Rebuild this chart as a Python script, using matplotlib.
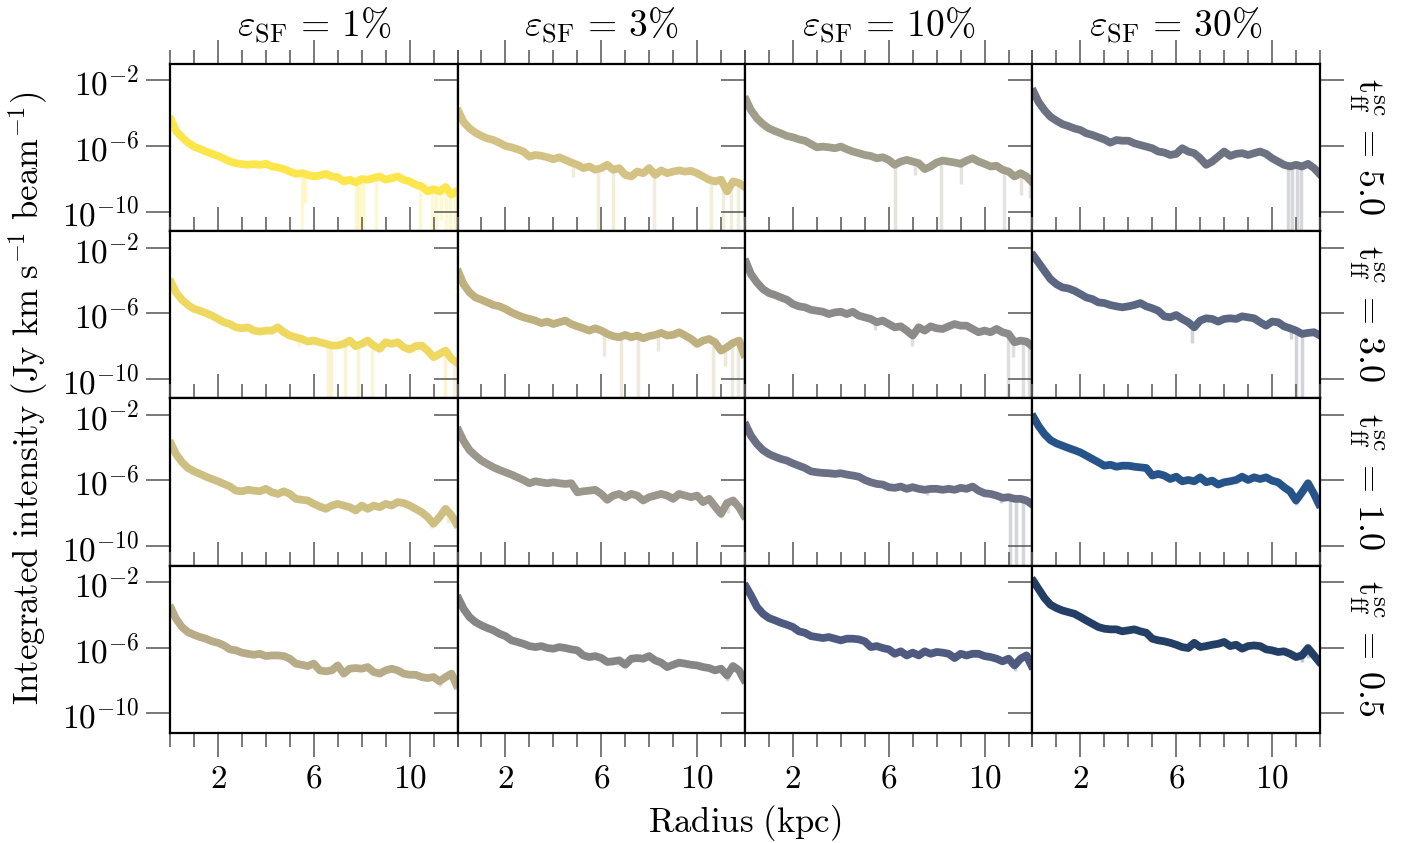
import numpy as np
import matplotlib
matplotlib.use("Agg")
import matplotlib.pyplot as plt
from matplotlib.ticker import FixedLocator, MultipleLocator, NullLocator, LogFormatterMathtext

plt.rcParams["mathtext.fontset"] = "cm"
plt.rcParams["font.family"] = "serif"
plt.rcParams["font.serif"] = ["cmr10", "DejaVu Serif"]
plt.rcParams["axes.formatter.use_mathtext"] = True

# ── data: radial profiles, log10 of integrated intensity ──
radius = [0.05, 0.25, 0.5, 0.75, 1.0, 1.25, 1.5, 1.75, 2.0, 2.25, 2.5, 2.75, 3.0, 3.25,
          3.5, 3.75, 4.0, 4.25, 4.5, 4.75, 5.0, 5.25, 5.5, 5.75, 6.0, 6.25, 6.5, 6.75,
          7.0, 7.25, 7.5, 7.75, 8.0, 8.25, 8.5, 8.75, 9.0, 9.25, 9.5, 9.75, 10.0, 10.25,
          10.5, 10.75, 11.0, 11.25, 11.5, 11.75, 11.95]

eps_labels = ["1", "3", "10", "30"]
tff_labels = ["5.0", "3.0", "1.0", "0.5"]

# row t=5.0
i_e1_t50 = [-4.42,-5.09,-5.47,-5.80,-6.04,-6.18,-6.34,-6.48,-6.61,-6.77,-6.95,-7.05,-7.11,-7.15,-7.11,-7.15,-7.09,-7.25,-7.31,-7.41,-7.56,-7.70,-7.66,-7.76,-7.86,-7.80,-7.70,-7.86,-7.90,-8.16,-8.06,-8.22,-8.02,-8.06,-7.96,-7.86,-8.06,-7.96,-7.86,-8.06,-8.16,-8.36,-8.46,-8.77,-8.63,-8.77,-8.50,-8.97,-8.77]
i_e3_t50 = [-3.92,-4.53,-4.93,-5.19,-5.39,-5.54,-5.64,-5.80,-6.00,-6.08,-6.20,-6.34,-6.65,-6.55,-6.60,-6.69,-6.81,-6.69,-6.85,-7.01,-7.15,-7.35,-7.25,-7.45,-7.35,-7.15,-7.45,-7.35,-7.76,-7.86,-7.56,-7.66,-7.35,-7.76,-7.49,-7.66,-7.56,-7.49,-7.56,-7.52,-7.66,-7.86,-8.06,-8.16,-8.06,-8.77,-8.16,-8.26,-8.46]
i_e10_t50 = [-3.21,-3.82,-4.32,-4.67,-4.93,-5.09,-5.23,-5.39,-5.47,-5.60,-5.68,-5.88,-6.08,-6.04,-6.08,-6.14,-6.04,-6.20,-6.34,-6.44,-6.55,-6.61,-6.75,-6.69,-6.85,-7.15,-6.95,-6.85,-6.95,-7.05,-7.41,-7.25,-7.01,-6.89,-6.95,-7.01,-7.09,-6.89,-6.75,-6.95,-7.09,-7.25,-7.21,-7.45,-7.56,-7.86,-7.66,-7.86,-8.16]
i_e30_t50 = [-2.71,-3.31,-3.82,-4.22,-4.46,-4.67,-4.79,-4.93,-5.03,-5.23,-5.33,-5.47,-5.60,-5.80,-5.64,-5.68,-5.68,-5.84,-5.94,-6.04,-6.14,-6.34,-6.40,-6.55,-6.48,-6.14,-6.34,-6.44,-6.75,-7.15,-6.95,-6.65,-6.34,-6.61,-6.48,-6.44,-6.55,-6.44,-6.34,-6.48,-6.75,-6.95,-7.15,-7.25,-7.15,-7.25,-7.09,-7.35,-7.66]
# row t=3.0
i_e1_t30 = [-4.13,-4.73,-5.18,-5.50,-5.74,-5.85,-5.99,-6.15,-6.35,-6.55,-6.66,-6.86,-6.92,-6.86,-7.06,-7.12,-7.06,-7.06,-6.86,-7.16,-7.36,-7.47,-7.57,-7.73,-7.67,-7.77,-7.87,-7.97,-7.97,-7.87,-7.67,-8.01,-7.87,-7.67,-7.97,-8.17,-7.77,-7.87,-7.77,-8.07,-8.21,-8.01,-7.97,-8.28,-8.68,-8.48,-8.28,-8.78,-8.98]
i_e3_t30 = [-3.52,-4.23,-4.73,-5.04,-5.18,-5.34,-5.50,-5.58,-5.74,-5.95,-6.11,-6.25,-6.35,-6.45,-6.60,-6.51,-6.66,-6.55,-6.45,-6.66,-6.80,-6.92,-7.06,-6.92,-7.06,-7.26,-7.40,-7.47,-7.32,-7.47,-7.36,-7.53,-7.40,-7.32,-7.20,-7.36,-7.32,-7.16,-7.36,-7.57,-7.87,-7.67,-7.57,-7.77,-8.28,-8.07,-7.81,-7.67,-8.48]
i_e10_t30 = [-2.91,-3.62,-4.13,-4.53,-4.77,-4.89,-5.04,-5.18,-5.44,-5.58,-5.64,-5.79,-5.85,-5.91,-6.05,-5.95,-5.91,-6.05,-5.91,-6.15,-6.25,-6.35,-6.55,-6.45,-6.66,-6.86,-6.80,-7.06,-7.36,-6.86,-7.06,-6.80,-6.92,-6.96,-6.80,-6.66,-6.76,-6.76,-6.96,-7.16,-7.06,-7.16,-6.96,-7.16,-7.26,-7.77,-7.67,-7.73,-7.97]
i_e30_t30 = [-2.51,-2.91,-3.42,-3.92,-4.23,-4.43,-4.49,-4.63,-4.83,-5.04,-5.14,-5.34,-5.38,-5.50,-5.58,-5.64,-5.58,-5.50,-5.38,-5.58,-5.70,-5.85,-6.19,-6.25,-6.11,-6.35,-6.55,-6.86,-6.45,-6.31,-6.35,-6.51,-6.35,-6.31,-6.35,-6.19,-6.25,-6.31,-6.55,-6.76,-6.51,-6.55,-6.80,-6.92,-7.06,-7.26,-7.20,-7.16,-7.32]
# row t=1.0
i_e1_t10 = [-3.78,-4.39,-4.89,-5.24,-5.44,-5.60,-5.77,-5.91,-6.05,-6.21,-6.37,-6.62,-6.66,-6.57,-6.62,-6.66,-6.51,-6.72,-6.82,-6.66,-6.82,-7.12,-7.18,-7.22,-7.43,-7.59,-7.73,-7.53,-7.43,-7.53,-7.63,-7.83,-7.53,-7.73,-7.53,-7.63,-7.43,-7.53,-7.32,-7.38,-7.53,-7.73,-7.93,-8.23,-8.64,-8.23,-7.73,-8.13,-8.64]
i_e3_t10 = [-2.97,-3.58,-4.15,-4.49,-4.79,-5.00,-5.20,-5.36,-5.50,-5.64,-5.81,-5.97,-6.17,-6.05,-6.11,-6.17,-6.11,-6.17,-6.21,-6.17,-6.72,-6.66,-6.62,-6.57,-6.82,-7.18,-6.92,-6.82,-7.02,-6.82,-6.92,-7.22,-7.02,-6.92,-6.82,-6.92,-7.12,-6.82,-6.92,-7.02,-6.92,-7.32,-7.12,-7.59,-8.03,-7.38,-7.22,-7.63,-8.13]
i_e10_t10 = [-2.67,-3.28,-3.78,-4.15,-4.39,-4.55,-4.69,-4.79,-4.96,-5.10,-5.24,-5.44,-5.50,-5.54,-5.56,-5.60,-5.56,-5.64,-5.70,-5.77,-5.97,-6.11,-6.21,-6.25,-6.41,-6.45,-6.37,-6.51,-6.41,-6.51,-6.57,-6.51,-6.51,-6.57,-6.51,-6.57,-6.45,-6.51,-6.37,-6.62,-6.78,-6.82,-6.92,-7.06,-7.02,-7.12,-7.12,-7.22,-7.43]
i_e30_t10 = [-2.16,-2.67,-3.17,-3.54,-3.74,-3.88,-4.02,-4.15,-4.29,-4.49,-4.69,-4.89,-5.10,-5.04,-5.16,-5.10,-5.10,-5.16,-5.20,-5.24,-5.70,-5.60,-5.70,-5.91,-5.77,-6.05,-5.97,-6.05,-5.81,-6.11,-6.01,-6.25,-6.11,-6.05,-5.97,-5.77,-5.97,-5.81,-5.91,-5.81,-6.01,-6.11,-6.41,-6.66,-7.22,-6.72,-6.17,-6.82,-7.43]
# row t=0.5
i_e1_t05 = [-3.62,-4.23,-4.74,-5.05,-5.21,-5.35,-5.45,-5.61,-5.70,-5.86,-6.10,-6.16,-6.30,-6.37,-6.43,-6.37,-6.51,-6.47,-6.47,-6.51,-6.67,-6.97,-7.04,-7.12,-6.97,-7.38,-7.44,-7.38,-7.08,-7.58,-7.28,-7.24,-7.28,-7.18,-7.48,-7.58,-7.38,-7.28,-7.38,-7.58,-7.65,-7.65,-7.79,-7.85,-7.79,-8.05,-7.79,-7.58,-8.25]
i_e3_t05 = [-3.02,-3.62,-4.13,-4.44,-4.64,-4.80,-4.94,-5.15,-5.29,-5.55,-5.65,-5.76,-5.90,-5.96,-5.90,-6.02,-6.06,-5.96,-6.02,-6.10,-6.16,-6.47,-6.57,-6.51,-6.63,-6.87,-6.83,-6.77,-7.04,-6.67,-6.63,-6.67,-6.51,-6.77,-6.91,-7.18,-7.04,-6.91,-6.97,-7.04,-7.08,-7.18,-7.24,-7.38,-7.28,-7.69,-7.12,-7.38,-7.93]
i_e10_t05 = [-2.30,-2.81,-3.52,-3.93,-4.19,-4.33,-4.48,-4.60,-4.74,-5.00,-5.09,-5.29,-5.35,-5.41,-5.35,-5.45,-5.55,-5.45,-5.45,-5.49,-5.61,-5.96,-5.90,-6.02,-6.10,-6.37,-6.22,-6.47,-6.30,-6.47,-6.22,-6.37,-6.26,-6.30,-6.37,-6.63,-6.37,-6.47,-6.37,-6.37,-6.51,-6.57,-6.67,-6.83,-6.67,-7.08,-6.67,-6.47,-7.08]
i_e30_t05 = [-1.96,-2.41,-2.97,-3.38,-3.58,-3.73,-3.83,-3.93,-4.13,-4.34,-4.54,-4.74,-4.84,-4.88,-4.88,-5.00,-4.94,-4.88,-5.00,-5.09,-5.45,-5.55,-5.61,-5.70,-5.82,-5.96,-6.02,-5.70,-5.96,-5.90,-5.82,-5.76,-5.65,-5.90,-5.82,-6.06,-5.90,-5.86,-5.90,-6.10,-6.16,-6.26,-6.22,-6.37,-6.57,-6.47,-6.02,-6.47,-6.83]

profiles = [[i_e1_t50, i_e3_t50, i_e10_t50, i_e30_t50],
            [i_e1_t30, i_e3_t30, i_e10_t30, i_e30_t30],
            [i_e1_t10, i_e3_t10, i_e10_t10, i_e30_t10],
            [i_e1_t05, i_e3_t05, i_e10_t05, i_e30_t05]]

# lower envelope dips of the scatter band: (radius, log10 lower value)
dips_t50 = [
    [(5.5,-12), (5.65,-9.5), (7.75,-12), (7.9,-12), (8.05,-12), (8.6,-12), (10.45,-12), (10.95,-12), (11.1,-12), (11.3,-10.5), (11.5,-12), (11.7,-12), (11.9,-12)],
    [(4.8,-7.9), (5.87,-12), (6.51,-12), (8.19,-12), (10.6,-12), (11.07,-12), (11.4,-12), (11.7,-12), (11.95,-10.6)],
    [(6.24,-12), (7.1,-7.8), (8.2,-12), (9.0,-8.3), (10.8,-12), (11.5,-9.0), (11.9,-9.2)],
    [(6.9,-7.0), (10.65,-12), (10.85,-12), (11.05,-12), (11.2,-12)],
]
dips_t30 = [
    [(5.4,-8.0), (6.6,-12), (6.73,-12), (7.3,-12), (7.84,-12), (8.45,-12), (11.47,-12), (11.87,-12)],
    [(6.1,-8.6), (6.83,-12), (7.55,-12), (8.35,-8.3), (10.67,-12), (11.15,-9.2), (11.45,-12), (11.7,-12), (11.95,-12)],
    [(5.44,-7.0), (6.95,-8.0), (10.96,-12), (11.2,-8.7), (11.6,-12), (11.85,-12)],
    [(6.64,-7.8), (10.8,-7.6), (11.0,-12), (11.23,-12)],
]
dips_t10 = [
    [(10.9,-8.9), (11.6,-8.6)],
    [(11.0,-8.3), (11.3,-8.0)],
    [(7.6,-6.9), (10.7,-7.4), (11.05,-12), (11.3,-12), (11.6,-12)],
    [(10.8,-7.0), (11.0,-7.5)],
]
dips_t05 = [
    [(11.25,-8.4), (11.95,-8.6)],
    [(11.25,-8.0), (11.3,-7.9)],
    [(11.25,-7.4), (11.95,-7.3)],
    [(11.25,-6.9), (11.5,-6.6)],
]
dips = [dips_t50, dips_t30, dips_t10, dips_t05]

colors = [["#fde64b", "#d3c283", "#a19d8b", "#6c7282"],
          ["#efd860", "#bfb07f", "#8c8b89", "#5b6682"],
          ["#cdbf82", "#9b978d", "#6b6f85", "#26538a"],
          ["#b8ab88", "#878687", "#4f5a80", "#233f66"]]

# ── figure ───────────────────────────────────────────────
fig, axes = plt.subplots(4, 4, figsize=(14.11, 8.43), dpi=100, sharex=True, sharey=True)
fig.subplots_adjust(left=0.1205, right=0.9355, top=0.9241, bottom=0.1305, wspace=0, hspace=0)

r = np.array(radius)
for i in range(4):
    for j in range(4):
        ax = axes[i, j]
        prof = np.array(profiles[i][j])
        col = colors[i][j]
        for rd, lo in dips[i][j]:
            hi = prof[np.argmin(np.abs(r - rd))]
            ax.vlines(rd, 10.0 ** lo, 10.0 ** hi, color=col, alpha=0.28, lw=2.5, zorder=1)
        ax.plot(r, 10.0 ** prof, color=col, lw=5.6, zorder=2)

        ax.set_yscale("log")
        ax.set_xlim(0, 12)
        ax.set_ylim(10 ** -11.2, 10 ** -1.0)
        ax.xaxis.set_major_locator(FixedLocator([2, 6, 10]))
        ax.xaxis.set_minor_locator(MultipleLocator(1))
        ax.yaxis.set_major_locator(FixedLocator([1e-10, 1e-6, 1e-2]))
        ax.yaxis.set_minor_locator(NullLocator())
        ax.yaxis.set_major_formatter(LogFormatterMathtext())
        ax.tick_params(axis="x", which="both", direction="out", top=True, bottom=(i == 3),
                       labeltop=False, labelbottom=(i == 3), labelsize=24, pad=6)
        ax.tick_params(axis="y", which="both", direction="out", left=True, right=(j == 3),
                       labelleft=(j == 0), labelright=False, labelsize=24, pad=5)
        ax.tick_params(which="major", length=17, width=1.1, color="#555555")
        ax.tick_params(which="minor", length=10, width=1.1, color="#555555")
        for s in ax.spines.values():
            s.set_linewidth(1.6)

col_x = [314 / 1411, 601.5 / 1411, 888.5 / 1411, 1176 / 1411]
for j in range(4):
    fig.text(col_x[j], 0.956, r"$\varepsilon_{\rm SF}\,=\,%s\%%$" % eps_labels[j],
             ha="center", va="baseline", fontsize=27)

row_y = [0.826, 0.628, 0.429, 0.231]
for i in range(4):
    fig.text(0.9685, row_y[i], r"$\mathrm{t}_{\rm ff}^{\rm sc}\,=\,%s$" % tff_labels[i],
             ha="center", va="center", rotation=270, fontsize=26)

fig.text(745 / 1411, 1 - 823 / 843, r"$\mathrm{Radius\ (kpc)}$", ha="center", va="center", fontsize=25)
fig.text(28 / 1411, 0.528, r"$\mathrm{Integrated\ intensity\ (Jy\ km\ s^{-1}\ beam^{-1})}$",
         ha="center", va="center", rotation=90, fontsize=25)

fig.savefig("out.png", dpi=100)
